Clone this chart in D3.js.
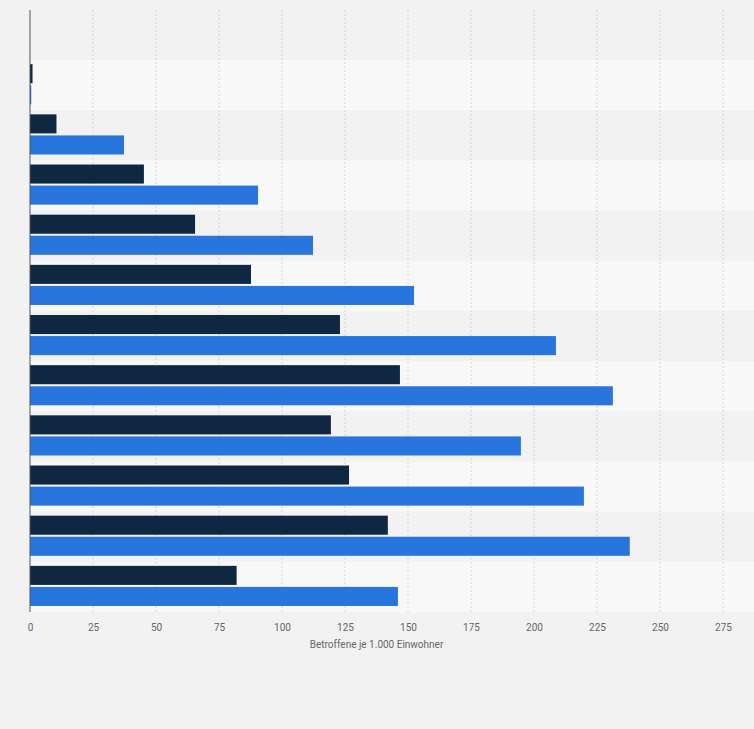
<!DOCTYPE html><html><head><meta charset="utf-8">
<script src="https://cdn.jsdelivr.net/npm/d3@7"></script>
<style>body{margin:0;background:#f2f2f2}</style></head><body>
<svg id="c" width="754" height="729"></svg>
<script>
const categories = ["1","2","3","4","5","6","7","8","9","10","11","12"];
const seriesA = [0, 1, 10.5, 45.2, 65.5, 87.7, 123, 146.8, 119.4, 126.6, 142, 82];
const seriesB = [0, 0.5, 37.3, 90.5, 112.3, 152.4, 208.7, 231.3, 194.8, 219.8, 238, 146];
const ticks = [0,25,50,75,100,125,150,175,200,225,250,275];
const axisTitle = "Betroffene je 1.000 Einwohner";

const svg = d3.select("#c");
const x = d3.scaleLinear().domain([0,275]).range([30,723]);
const y = d3.scaleBand().domain(categories).range([10,612]);
const bw = y.bandwidth();

svg.selectAll("rect.band").data(categories).enter().append("rect")
  .attr("x",30).attr("width",723-30+31).attr("y",d=>y(d)).attr("height",bw)
  .attr("fill",(d,i)=>i%2?"#f8f8f8":"#f2f2f2");

svg.selectAll("line.g").data(ticks.slice(1)).enter().append("line")
  .attr("x1",d=>x(d)).attr("x2",d=>x(d)).attr("y1",10).attr("y2",612)
  .attr("stroke","#d6d6d6").attr("stroke-dasharray","2,2");

const h = bw*0.38;
svg.selectAll("rect.a").data(seriesA).enter().append("rect")
  .attr("x",x(0)).attr("y",(d,i)=>y(categories[i])+bw*0.08).attr("height",h)
  .attr("width",d=>x(d)-x(0)).attr("fill","#0f2741");
svg.selectAll("rect.b").data(seriesB).enter().append("rect")
  .attr("x",x(0)).attr("y",(d,i)=>y(categories[i])+bw*0.5).attr("height",h)
  .attr("width",d=>x(d)-x(0)).attr("fill","#2876dd");

svg.append("line").attr("x1",30).attr("x2",30).attr("y1",10).attr("y2",612)
  .attr("stroke","#555").attr("stroke-width",1);

const ax = svg.append("g").attr("transform","translate(0,612)")
  .call(d3.axisBottom(x).tickValues(ticks).tickSize(0).tickPadding(12));
ax.select(".domain").remove();
ax.selectAll("text").attr("font-family","Roboto, Arial, sans-serif").attr("font-size",10).attr("fill","#666");

svg.append("text").attr("x",x(137.5)).attr("y",648).attr("text-anchor","middle")
  .attr("font-family","Roboto, Arial, sans-serif").attr("font-size",10).attr("fill","#666").text(axisTitle);
</script></body></html>
